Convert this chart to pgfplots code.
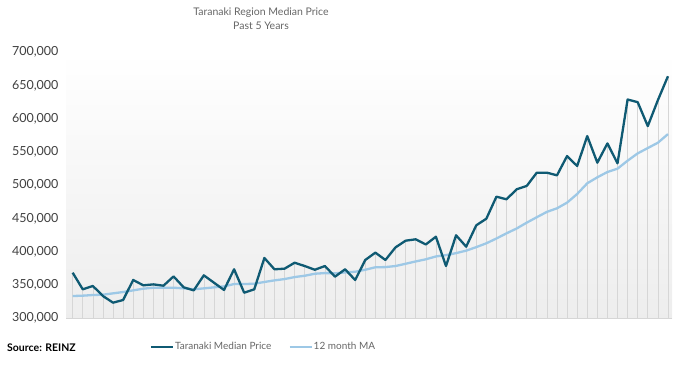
\documentclass[border=0pt]{standalone}
\usepackage{fontspec}
\setmainfont{Lato}
\usepackage{pgfplots}
\usepackage{pgfplotstable}
\pgfplotsset{compat=1.18}
\definecolor{darkline}{HTML}{0F5A73}
\definecolor{maline}{HTML}{9DC8E6}
\definecolor{ticktext}{HTML}{404040}
\definecolor{titletext}{HTML}{666666}
\definecolor{combgray}{HTML}{D6D6D6}
\pgfplotstableread{
i med ma
0 368.6 333.5
1 343.6 334
2 348.6 335
3 333.5 335.5
4 323.5 337.5
5 327.5 339.5
6 357.6 342
7 349.6 344.5
8 351 346
9 349 346
10 363 346
11 346.6 345
12 342 343.6
13 364.6 345
14 353.6 346.5
15 342.6 348
16 373.7 351.5
17 338.5 351.5
18 343.6 352
19 390.7 354.6
20 373.7 357
21 374.6 359
22 383.6 362
23 378.6 364
24 373 367
25 378.6 368
26 362.6 367.6
27 373.7 369
28 357.6 370
29 387.7 373
30 398.7 376.7
31 387.7 377
32 406.7 378.6
33 416.7 382
34 418.8 385.5
35 411 388.7
36 422.7 393
37 378.6 395
38 424.8 398
39 407.7 401.7
40 439.8 407
41 449.8 412.8
42 482.9 420
43 478.9 427.8
44 494 435
45 499 443.8
46 519 452
47 519 460
48 515 465.4
49 544 473.9
50 529 486.9
51 574 503
52 534 512
53 563 520
54 533 525
55 629 537
56 625 548
57 589 556
58 628 564
59 664 577
}\datatable
\begin{document}
\begin{tikzpicture}[x=1pt,y=1pt]
\useasboundingbox (0,0) rectangle (689,366);
\begin{axis}[
  at={(66pt,47.7pt)}, anchor=south west,
  scale only axis, width=606pt, height=266pt,
  xmin=-0.66, xmax=59.4,
  ymin=300000, ymax=700000,
  ytick={300000,350000,400000,450000,500000,550000,600000,650000,700000},
  scaled y ticks=false,
  /pgf/number format/.cd, fixed, 1000 sep={,}, assume math mode=true, /pgfplots/.cd,
  yticklabel style={font=\fontsize{12.5}{14}\selectfont, color=ticktext, anchor=east, xshift=-4pt},
  xtick=\empty,
  axis x line*=bottom,
  axis y line*=left,
  x axis line style={-, draw=combgray, line width=0.8pt},
  y axis line style={draw=none},
  ytick style={draw=none},
  axis background/.style={top color=white, bottom color=black!7},
  clip=true,
  legend reversed=true,
  legend style={at={(0.325,-0.108)}, anchor=center, draw=none, fill=none,
    font=\fontsize{10}{12}\selectfont\color{titletext},
    legend columns=2,
    /tikz/every even column/.append style={column sep=16pt},
    nodes={inner xsep=1pt}},
  legend image code/.code={\draw[#1] (0pt,0pt) -- (22pt,0pt);},
]
\addplot[ycomb, draw=combgray, line width=0.6pt, forget plot] table[x=i, y expr=\thisrow{med}*1000] {\datatable};
\addplot[draw=maline, line width=2.3pt, line join=round] table[x=i, y expr=\thisrow{ma}*1000] {\datatable};
\addlegendentry{12 month MA}
\addplot[draw=darkline, line width=2.3pt, line join=round] table[x=i, y expr=\thisrow{med}*1000] {\datatable};
\addlegendentry{Taranaki Median Price}
\end{axis}
\node[font=\fontsize{10.5}{12}\selectfont, color=titletext] at (261,353) {Taranaki Region Median Price};
\node[font=\fontsize{10.5}{12}\selectfont, color=titletext] at (261,340) {Past 5 Years};
\node[anchor=west, font=\bfseries\fontsize{10.5}{12}\selectfont, inner sep=0pt] at (7,18) {Source: REINZ};
\end{tikzpicture}
\end{document}
